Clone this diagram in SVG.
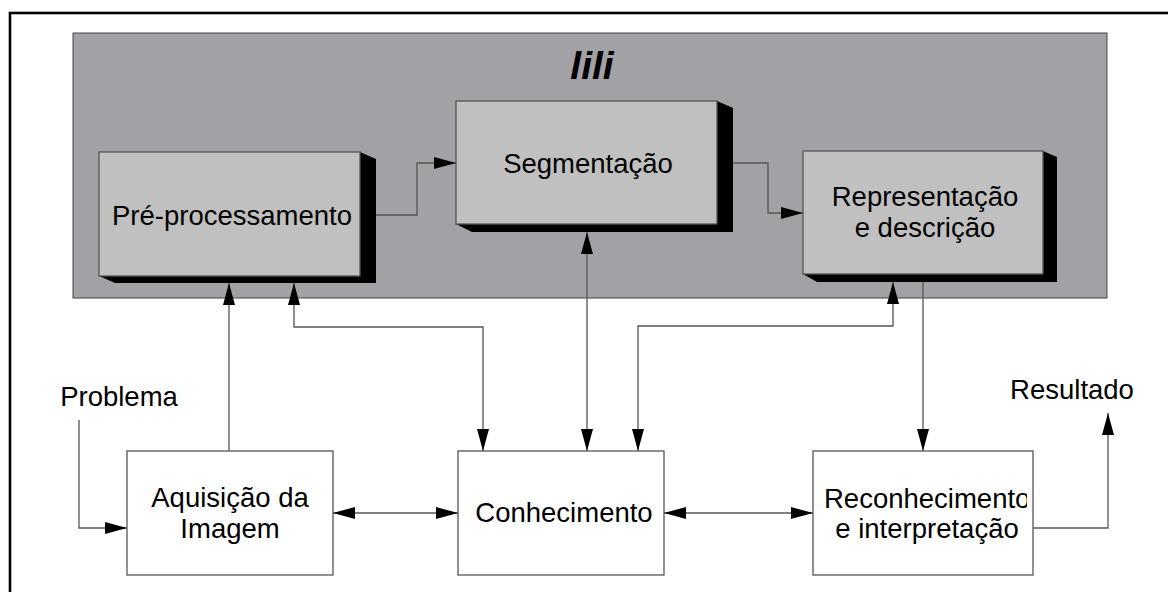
<svg xmlns="http://www.w3.org/2000/svg" width="1168" height="592" viewBox="0 0 1168 592">
  <style>
    .lbl { font-family: "Liberation Sans", Arial, sans-serif; font-size: 27.5px; fill: #000; text-anchor: middle; }
    .box3d { fill: #c0c0c0; stroke: #555; stroke-width: 1.3; }
    .shadow { fill: #000; }
    .box { fill: #fff; stroke: #555; stroke-width: 1.3; }
    .wire { fill: none; stroke: #555; stroke-width: 1.3; }
  </style>
  <defs>
    <marker id="head" viewBox="0 0 22 12" refX="22" refY="6" markerWidth="22" markerHeight="12" markerUnits="userSpaceOnUse" orient="auto-start-reverse">
      <path d="M0,0 L22,6 L0,12 z" fill="#000"/>
    </marker>
    <clipPath id="recClip">
      <rect x="813" y="451" width="214" height="124"/>
    </clipPath>
  </defs>

  <rect x="0" y="0" width="1168" height="592" fill="#fff"/>
  <!-- outer frame -->
  <rect x="10" y="13" width="1180" height="620" fill="none" stroke="#000" stroke-width="2.6"/>

  <!-- processing panel -->
  <g id="panel">
    <rect x="73" y="33" width="1034" height="265" fill="#a2a1a6" stroke="#444" stroke-width="1"/>
    <text x="592" y="79" font-family="Liberation Sans, Arial, sans-serif" font-size="39" font-weight="bold" font-style="italic" text-anchor="middle">lili</text>
  </g>

  <g id="preprocessamento">
    <polygon class="shadow" points="360,152 376,159 376,283 115,283 99,276 360,276"/>
    <rect class="box3d" x="99" y="152" width="261" height="124"/>
    <text class="lbl" x="232" y="225">Pré-processamento</text>
  </g>

  <g id="segmentacao">
    <polygon class="shadow" points="717,101 733,108 733,232 472,232 456,224 717,224"/>
    <rect class="box3d" x="456" y="101" width="261" height="123"/>
    <text class="lbl" x="588" y="173">Segmentação</text>
  </g>

  <g id="representacao">
    <polygon class="shadow" points="1043,151 1057,157 1057,282 817,282 803,274 1043,274"/>
    <rect class="box3d" x="803" y="151" width="240" height="123"/>
    <text class="lbl" x="925" y="206">Representação</text>
    <text class="lbl" x="925" y="237">e descrição</text>
  </g>

  <g id="aquisicao">
    <rect class="box" x="127" y="451" width="206" height="124"/>
    <text class="lbl" x="230" y="507">Aquisição da</text>
    <text class="lbl" x="230" y="538">Imagem</text>
  </g>

  <g id="conhecimento">
    <rect class="box" x="458" y="451" width="206" height="124"/>
    <text class="lbl" x="564" y="522">Conhecimento</text>
  </g>

  <g id="reconhecimento">
    <rect class="box" x="813" y="451" width="220" height="124"/>
    <text class="lbl" x="824" y="508" text-anchor="start" style="text-anchor:start" clip-path="url(#recClip)">Reconhecimento</text>
    <text class="lbl" x="927" y="538">e interpretação</text>
  </g>

  <g id="problema">
    <text class="lbl" x="119" y="406">Problema</text>
  </g>
  <g id="resultado">
    <text class="lbl" x="1072" y="399">Resultado</text>
  </g>

  <g id="connectors">
    <!-- inside panel -->
    <polyline class="wire" points="376,215 417,215 417,163 456,163" marker-end="url(#head)"/>
    <polyline class="wire" points="733,163 768,163 768,213 803,213" marker-end="url(#head)"/>
    <!-- acquisition up to pre-processing -->
    <line class="wire" x1="229" y1="451" x2="229" y2="283" marker-end="url(#head)"/>
    <!-- pre-processing <-> knowledge -->
    <polyline class="wire" points="294,283 294,327 483,327 483,451" marker-start="url(#head)" marker-end="url(#head)"/>
    <!-- segmentation <-> knowledge -->
    <line class="wire" x1="587" y1="232" x2="587" y2="451" marker-start="url(#head)" marker-end="url(#head)"/>
    <!-- representation <-> knowledge -->
    <polyline class="wire" points="893,282 893,326 638,326 638,451" marker-start="url(#head)" marker-end="url(#head)"/>
    <!-- representation down to recognition -->
    <line class="wire" x1="923" y1="282" x2="923" y2="451" marker-end="url(#head)"/>
    <!-- bottom row -->
    <line class="wire" x1="333" y1="513" x2="458" y2="513" marker-start="url(#head)" marker-end="url(#head)"/>
    <line class="wire" x1="664" y1="513" x2="813" y2="513" marker-start="url(#head)" marker-end="url(#head)"/>
    <!-- problem input -->
    <polyline class="wire" points="79,420 79,528 127,528" marker-end="url(#head)"/>
    <!-- result output -->
    <polyline class="wire" points="1033,528 1108,528 1108,413" marker-end="url(#head)"/>
  </g>
</svg>
